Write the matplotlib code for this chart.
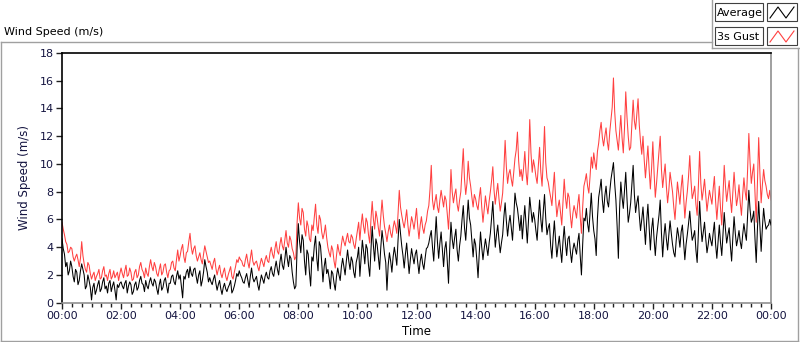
import numpy as np
import matplotlib
matplotlib.use("Agg")
import matplotlib.pyplot as plt
from matplotlib.patches import Rectangle
from matplotlib.lines import Line2D

# ---- data (2.5-minute samples, 00:00 .. 24:00), one row per hour ----
gust = [
    5.8, 5.3, 4.9, 4.4, 4.2, 3.6, 3.7, 4.0, 3.9, 3.3, 3.0, 3.3, 3.5, 3.1, 2.6, 3.2, 4.4, 3.4, 2.8, 2.4, 2.2, 2.9, 2.7, 2.1,
    1.7, 2.0, 2.2, 1.6, 1.9, 2.1, 2.4, 1.7, 1.8, 2.3, 2.6, 1.9, 2.0, 1.6, 2.1, 2.4, 1.7, 1.9, 2.3, 1.8, 2.0, 2.2, 1.6, 2.1,
    2.5, 2.1, 1.8, 2.3, 2.7, 1.9, 2.0, 2.5, 2.2, 1.6, 1.7, 2.2, 2.4, 1.8, 2.0, 2.6, 2.9, 2.4, 2.2, 1.8, 2.5, 2.1, 1.9, 2.6,
    3.1, 2.6, 2.3, 2.9, 2.6, 2.1, 1.9, 2.4, 2.8, 2.0, 2.2, 2.7, 2.8, 2.2, 1.8, 2.3, 2.4, 2.9, 3.0, 2.5, 2.3, 3.1, 3.8, 3.0,
    3.4, 3.9, 4.2, 3.3, 2.9, 3.6, 3.7, 4.4, 5.0, 4.0, 3.5, 3.9, 4.1, 3.4, 3.0, 3.3, 3.6, 3.1, 2.8, 3.5, 4.1, 3.7, 3.3, 2.9,
    3.0, 2.7, 2.4, 2.9, 3.2, 2.5, 2.0, 2.4, 2.7, 2.1, 1.8, 2.2, 2.5, 1.9, 1.6, 2.0, 2.3, 2.6, 1.9, 1.7, 2.2, 2.6, 3.1, 2.9,
    3.3, 3.1, 3.0, 2.7, 2.6, 3.1, 3.5, 2.9, 2.5, 3.2, 3.8, 3.0, 2.7, 2.9, 3.0, 2.6, 2.3, 2.8, 3.2, 2.9, 2.6, 3.1, 3.4, 3.0,
    2.9, 3.6, 4.0, 3.5, 3.2, 3.9, 4.4, 3.7, 3.5, 4.2, 4.7, 4.1, 3.8, 4.5, 5.2, 4.3, 4.0, 4.8, 4.5, 3.9, 3.6, 3.1, 3.3, 5.8,
    7.2, 6.1, 5.6, 6.8, 6.5, 5.3, 4.8, 5.9, 5.5, 4.6, 4.4, 5.6, 5.2, 6.2, 7.1, 5.6, 5.0, 6.3, 6.0, 5.1, 4.6, 5.0, 5.6, 4.7,
    4.0, 3.6, 3.3, 4.1, 3.8, 3.0, 2.5, 3.4, 4.2, 3.7, 3.4, 4.2, 4.8, 4.4, 4.1, 4.6, 5.0, 4.4, 4.3, 4.9, 4.7, 4.2, 3.9, 4.6,
    5.2, 5.8, 4.5, 5.6, 6.4, 5.5, 5.0, 6.1, 5.8, 4.9, 4.3, 6.0, 7.3, 6.0, 5.3, 6.6, 6.1, 5.4, 4.8, 6.2, 7.4, 6.3, 5.5, 5.0,
    4.4, 5.1, 5.6, 5.0, 4.7, 5.4, 5.9, 5.5, 5.0, 6.4, 8.1, 6.9, 6.3, 5.8, 5.4, 6.0, 6.7, 5.6, 4.8, 5.5, 6.2, 5.8, 5.3, 6.0,
    6.8, 5.5, 4.6, 5.6, 6.2, 5.4, 5.0, 5.6, 5.9, 6.6, 7.0, 8.2, 9.9, 7.4, 6.7, 7.3, 7.8, 6.9, 6.5, 7.4, 8.1, 7.5, 6.9, 7.7,
    7.4, 6.4, 5.3, 7.0, 9.6, 8.0, 7.2, 7.8, 8.2, 7.1, 6.6, 7.4, 8.0, 9.5, 11.1, 8.9, 7.8, 8.6, 10.2, 9.0, 8.4, 7.6, 6.9, 7.8,
    7.5, 7.0, 6.7, 7.6, 8.3, 6.9, 5.8, 6.7, 7.7, 7.0, 6.4, 7.3, 8.0, 8.8, 9.8, 8.1, 7.1, 7.9, 8.6, 7.5, 6.6, 7.2, 7.9, 9.6,
    11.7, 9.8, 8.6, 9.3, 9.6, 8.9, 8.4, 9.4, 10.4, 11.0, 12.3, 10.2, 9.1, 9.6, 8.8, 9.7, 10.9, 9.4, 8.5, 10.1, 13.2, 10.8, 9.4, 10.3,
    9.8, 9.1, 8.6, 9.9, 11.2, 9.4, 8.4, 10.3, 12.7, 10.1, 9.0, 8.7, 8.1, 7.6, 7.0, 8.2, 9.4, 7.5, 6.2, 6.9, 7.4, 6.5, 5.6, 7.3,
    8.9, 7.6, 6.8, 7.9, 7.6, 6.3, 5.4, 6.4, 7.0, 6.6, 6.1, 7.1, 7.8, 6.2, 5.0, 6.9, 8.4, 8.8, 9.3, 8.4, 7.9, 9.1, 10.5, 9.7,
    10.8, 10.1, 9.6, 10.9, 11.5, 12.4, 13.0, 11.9, 11.3, 12.0, 12.6, 11.6, 11.0, 12.3, 13.2, 14.1, 16.2, 13.8, 12.4, 11.7, 11.0, 12.2, 13.5, 11.9,
    10.8, 12.6, 15.2, 13.4, 12.0, 11.0, 11.2, 12.9, 14.6, 13.1, 12.5, 13.6, 14.7, 12.8, 11.6, 10.7, 12.0, 10.3, 9.0, 10.2, 11.3, 9.6, 8.2, 9.7,
    11.6, 9.4, 7.6, 8.6, 9.8, 10.9, 12.0, 9.6, 8.3, 9.2, 10.0, 8.4, 7.2, 8.1, 9.4, 8.7, 8.0, 6.9, 6.0, 7.4, 8.7, 7.9, 7.1, 8.3,
    9.2, 7.6, 6.1, 7.2, 8.0, 9.1, 10.6, 8.8, 7.5, 7.9, 8.4, 7.1, 6.3, 8.4, 10.9, 8.6, 7.4, 8.1, 8.9, 7.7, 6.6, 7.4, 8.1, 7.6,
    7.1, 8.2, 9.1, 7.3, 6.0, 7.2, 8.4, 6.8, 5.6, 7.7, 9.9, 8.4, 7.3, 8.1, 8.8, 7.5, 6.5, 8.0, 9.4, 8.1, 7.0, 7.6, 8.5, 7.2,
    6.3, 7.8, 9.0, 8.0, 7.4, 9.6, 12.2, 10.1, 8.6, 9.4, 10.0, 7.9, 5.8, 8.7, 11.9, 9.3, 7.2, 8.5, 9.6, 8.8, 8.4, 7.8, 7.5, 8.1,
    7.4,
]
average = [
    4.6, 3.9, 3.5, 2.6, 2.9, 2.0, 2.3, 3.0, 2.6, 1.9, 1.5, 2.4, 2.2, 1.3, 1.6, 2.3, 2.8, 2.4, 2.0, 1.0, 1.2, 2.0, 1.6, 1.1,
    0.2, 1.1, 1.4, 0.6, 0.9, 1.3, 1.6, 0.8, 1.0, 1.5, 1.8, 1.0, 1.2, 0.7, 1.4, 1.6, 0.8, 1.2, 1.5, 0.9, 0.2, 1.3, 1.1, 1.4,
    1.5, 1.2, 1.0, 1.4, 1.6, 0.7, 1.2, 1.5, 1.3, 0.6, 0.8, 1.3, 1.5, 0.9, 1.1, 1.6, 1.9, 1.4, 1.3, 0.8, 1.6, 1.2, 1.0, 1.5,
    1.8, 1.4, 1.2, 1.7, 1.5, 1.0, 0.6, 1.3, 1.7, 0.9, 1.1, 1.6, 1.8, 1.2, 0.7, 1.4, 1.4, 1.9, 2.0, 1.5, 1.3, 1.9, 2.3, 1.7,
    2.0, 1.2, 0.35, 1.9, 1.7, 2.2, 2.4, 1.8, 2.6, 2.1, 1.9, 2.4, 2.5, 1.9, 1.4, 2.0, 2.3, 1.2, 1.6, 2.2, 3.1, 2.6, 2.2, 1.5,
    1.8, 1.5, 1.3, 1.7, 2.0, 1.4, 0.9, 1.3, 1.6, 1.0, 0.6, 1.1, 1.4, 1.0, 0.8, 1.1, 1.3, 1.6, 0.7, 0.9, 1.2, 1.6, 2.1, 1.9,
    2.3, 2.0, 1.8, 1.5, 1.4, 1.8, 2.1, 1.6, 1.1, 1.9, 2.5, 1.8, 1.5, 1.7, 1.9, 1.3, 0.9, 1.5, 2.0, 1.7, 1.4, 1.9, 2.2, 1.8,
    1.7, 2.3, 2.6, 2.1, 1.9, 2.5, 3.0, 2.4, 2.0, 2.9, 3.5, 2.7, 2.4, 3.1, 4.0, 3.2, 2.6, 3.4, 3.2, 2.2, 1.5, 1.0, 1.2, 3.9,
    5.7, 4.4, 3.6, 4.9, 4.5, 3.0, 2.0, 3.8, 3.5, 2.2, 1.2, 3.3, 3.0, 4.1, 4.8, 3.2, 2.3, 4.4, 4.1, 2.9, 1.5, 2.6, 3.2, 2.1,
    2.4, 1.8, 1.0, 2.3, 2.1, 1.4, 0.9, 1.9, 2.5, 2.0, 1.6, 2.6, 3.2, 2.6, 2.0, 3.0, 3.8, 3.0, 2.4, 3.3, 3.0, 2.2, 1.8, 2.9,
    3.3, 4.0, 1.9, 3.2, 4.5, 3.7, 2.8, 4.2, 3.9, 2.7, 1.9, 3.8, 5.5, 4.1, 3.0, 4.6, 4.2, 3.3, 2.4, 4.0, 5.2, 4.4, 3.5, 2.9,
    0.9, 2.7, 3.6, 3.0, 2.2, 3.3, 4.0, 3.4, 2.7, 4.5, 6.0, 5.0, 4.1, 3.4, 2.5, 3.5, 4.3, 3.2, 2.1, 3.1, 3.9, 3.3, 2.8, 3.5,
    3.8, 2.9, 2.1, 3.0, 3.5, 2.8, 2.4, 3.2, 3.9, 4.0, 4.3, 4.8, 5.2, 4.0, 3.0, 4.6, 6.2, 4.4, 3.2, 4.3, 5.1, 3.9, 2.6, 3.9,
    4.4, 3.0, 1.4, 3.9, 5.8, 4.6, 3.9, 4.7, 5.3, 3.8, 3.0, 4.1, 4.8, 6.0, 7.0, 5.4, 4.5, 5.9, 7.4, 6.1, 5.6, 4.4, 3.3, 4.6,
    4.2, 3.1, 1.8, 3.6, 5.1, 4.0, 3.1, 3.9, 4.6, 4.0, 3.4, 4.3, 5.0, 6.1, 7.3, 5.5, 4.0, 4.9, 5.6, 4.5, 3.6, 4.3, 4.9, 6.2,
    7.2, 5.9, 4.8, 5.7, 6.3, 5.4, 4.5, 6.1, 7.9, 7.2, 6.8, 6.0, 5.2, 6.3, 4.6, 5.9, 7.0, 5.6, 4.3, 6.0, 7.6, 6.7, 5.8, 6.5,
    6.0, 5.2, 4.5, 6.1, 7.4, 6.0, 5.1, 6.6, 7.8, 6.1, 4.9, 5.4, 5.7, 4.1, 3.2, 4.7, 5.9, 4.5, 3.3, 4.1, 4.8, 3.8, 2.9, 4.4,
    5.5, 4.3, 3.4, 4.6, 4.8, 3.7, 2.9, 3.8, 4.3, 3.9, 3.5, 4.4, 5.0, 3.4, 2.0, 4.2, 6.1, 5.9, 6.8, 5.7, 5.1, 6.5, 7.9, 6.2,
    5.2, 4.6, 3.4, 6.1, 7.6, 8.2, 8.9, 7.4, 6.5, 7.7, 8.4, 7.3, 6.9, 8.0, 8.9, 9.5, 10.1, 8.6, 7.4, 5.5, 3.2, 6.8, 8.7, 7.6,
    6.8, 8.1, 9.4, 7.5, 5.8, 6.4, 7.2, 8.6, 9.9, 7.8, 6.5, 7.2, 7.7, 6.3, 5.2, 6.0, 6.9, 5.5, 4.2, 5.9, 7.1, 5.4, 3.8, 5.3,
    6.1, 4.6, 3.4, 4.7, 5.5, 6.3, 7.4, 5.0, 3.3, 4.8, 5.7, 4.6, 3.8, 4.9, 5.9, 5.0, 4.2, 3.6, 3.3, 4.5, 5.4, 4.8, 4.0, 5.1,
    5.6, 4.4, 3.1, 4.2, 4.9, 5.7, 6.6, 5.4, 4.5, 4.8, 5.2, 3.8, 2.9, 5.0, 7.3, 5.6, 4.4, 5.1, 5.8, 4.6, 3.6, 4.2, 5.0, 4.5,
    4.1, 5.0, 5.8, 4.2, 3.2, 4.4, 5.6, 4.3, 3.4, 5.0, 6.5, 5.3, 4.3, 4.9, 5.4, 4.1, 3.0, 4.7, 6.2, 5.0, 4.1, 4.6, 5.2, 4.4,
    3.9, 4.9, 5.7, 5.0, 4.5, 6.3, 8.1, 6.7, 5.8, 6.1, 6.6, 4.6, 2.9, 5.4, 7.3, 5.5, 3.7, 5.4, 6.8, 5.9, 5.3, 5.5, 5.6, 6.0,
    5.6,
]
sample_minutes = 2.5
tick_hours = [0, 2, 4, 6, 8, 10, 12, 14, 16, 18, 20, 22, 24]
tick_labels = ["00:00", "02:00", "04:00", "06:00", "08:00", "10:00", "12:00",
               "14:00", "16:00", "18:00", "20:00", "22:00", "00:00"]
y_ticks = [0, 2, 4, 6, 8, 10, 12, 14, 16, 18]
series_names = ["Average", "3s Gust"]

# ---- figure ----
W, H = 800, 342
fig = plt.figure(figsize=(W / 100, H / 100), dpi=100)
fig.patch.set_facecolor("white")

text_col = "#141440"
red = "#ff4040"

def px_rect(x0, y0, x1, y1):
    return [x0 / W, 1 - y1 / H, (x1 - x0) / W, (y1 - y0) / H]

ax = fig.add_axes(px_rect(62, 53, 771, 302.7))
t_hours = np.arange(len(gust)) * sample_minutes / 60.0
ax.plot(t_hours, gust, color=red, lw=0.75, zorder=2)
ax.plot(t_hours, average, color="black", lw=0.75, zorder=3)
ax.set_xlim(0, 24)
ax.set_ylim(0, 18)
ax.set_xticks(tick_hours)
ax.set_xticklabels(tick_labels)
ax.set_xticks(np.arange(0, 24.01, 1 / 3), minor=True)
ax.set_yticks(y_ticks)
ax.tick_params(axis="both", which="major", direction="out", length=4,
               width=1, color="#202020", labelsize=8, labelcolor=text_col, pad=2)
ax.tick_params(axis="x", which="minor", direction="out", length=3,
               width=1, color="#202020")
ax.spines["top"].set_color("black")
ax.spines["left"].set_color("black")
ax.spines["right"].set_color("#909090")
ax.spines["bottom"].set_color("#909090")
for s in ax.spines.values():
    s.set_linewidth(1.2)
ax.set_xlabel("Time", fontsize=8.5, color="black", labelpad=3)
ax.set_ylabel("Wind Speed (m/s)", fontsize=8.5, color=text_col, labelpad=6)

# ---- outer panel lines ----
ov = fig.add_axes([0, 0, 1, 1], zorder=-1)
ov.set_xlim(0, W)
ov.set_ylim(H, 0)
ov.axis("off")
gray = "#a0a0a0"
ov.plot([1, 1], [42, 341], color=gray, lw=1)
ov.plot([1, 712], [42, 42], color=gray, lw=1)
ov.plot([712, 712], [0, 48], color=gray, lw=1)
ov.plot([712, 799], [48, 48], color=gray, lw=1)
ov.plot([798, 798], [48, 341], color=gray, lw=1)
ov.plot([1, 798], [341, 341], color=gray, lw=1)
fig.text(4 / W, 1 - 32 / H, "Wind Speed (m/s)", fontsize=8, color="black",
         va="center", ha="left")

# ---- legend ----
leg = fig.add_axes([0, 0, 1, 1], zorder=5)
leg.set_xlim(0, W)
leg.set_ylim(H, 0)
leg.axis("off")
for i, (name, col) in enumerate(zip(series_names, ["black", red])):
    y0 = 3 + i * 24
    leg.add_patch(Rectangle((715, y0), 48, 18, facecolor="white",
                            edgecolor="#404040", lw=0.8))
    leg.text(717, y0 + 9.5, name, fontsize=8, color="black", va="center", ha="left")
    leg.add_patch(Rectangle((767, y0), 30, 18, facecolor="white",
                            edgecolor="#404040", lw=0.8))
    leg.add_line(Line2D([770, 778, 786, 794], [y0 + 15, y0 + 4, y0 + 15, y0 + 4],
                        color=col, lw=0.8))

fig.savefig("out.png", dpi=100, facecolor="white")
